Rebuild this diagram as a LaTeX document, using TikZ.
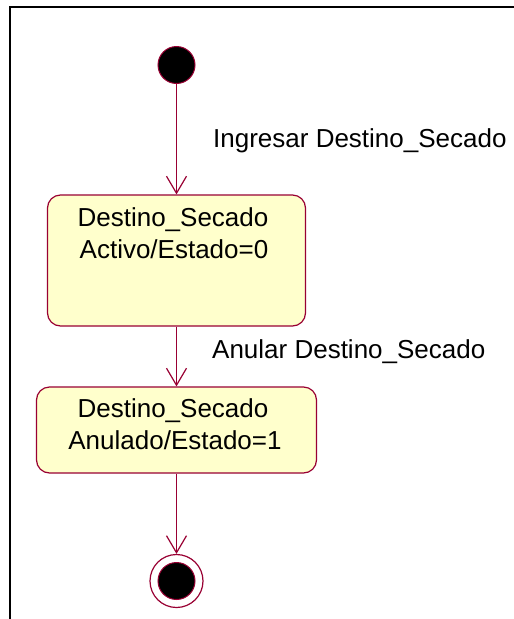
\documentclass[tikz,border=0pt]{standalone}
\usepackage{fontspec}
\setmainfont{Liberation Sans}
\usetikzlibrary{arrows.meta}
\definecolor{umlred}{HTML}{990033}
\definecolor{umlfill}{HTML}{FFFFCC}
\begin{document}
\begin{tikzpicture}[x=1pt,y=-1pt,
  statebox/.style={draw=umlred, fill=umlfill, rounded corners=13pt, line width=1.2pt, inner sep=0pt},
  txt/.style={anchor=base, inner sep=0pt, font=\fontsize{26}{31}\selectfont},
  lbl/.style={anchor=base west, inner sep=0pt, font=\fontsize{26}{31}\selectfont},
  trans/.style={draw=umlred, line width=1.2pt, -{Straight Barb[length=17pt,width=20pt,line width=1.2pt]}},
  startdot/.style={circle, draw=umlred, fill=black, line width=1pt, inner sep=0pt, minimum size=37pt}
]
\useasboundingbox (0,0) rectangle (514,619);
\fill[white] (0,0) rectangle (514,619);
% frame
\draw[line width=2pt, black] (10,619) -- (10,7) -- (514,7);

% initial state
\node[startdot] (init) at (176.5,65) {};

% states
\node[statebox, minimum width=258pt, minimum height=131pt] (s1) at (176.5,260.5) {};
\node[txt] (s1a) at (173,226) {Destino\_Secado};
\node[txt] (s1b) at (174,258) {Activo/Estado=0};

\node[statebox, minimum width=280pt, minimum height=86pt] (s2) at (176.5,430) {};
\node[txt] (s2a) at (173,417) {Destino\_Secado};
\node[txt] (s2b) at (175,449) {Anulado/Estado=1};

% final state
\node[circle, draw=umlred, fill=white, line width=1.2pt, inner sep=0pt, minimum size=53pt] (fin) at (176.5,581) {};
\node[startdot] (finin) at (fin.center) {};

% transitions
\draw[trans] (init) -- (s1);
\draw[trans] (s1) -- (s2);
\draw[trans] (s2) -- (fin);

% labels
\node[lbl] (l1) at (213,147) {Ingresar Destino\_Secado};
\node[lbl] (l2) at (212,358) {Anular Destino\_Secado};
\end{tikzpicture}
\end{document}
